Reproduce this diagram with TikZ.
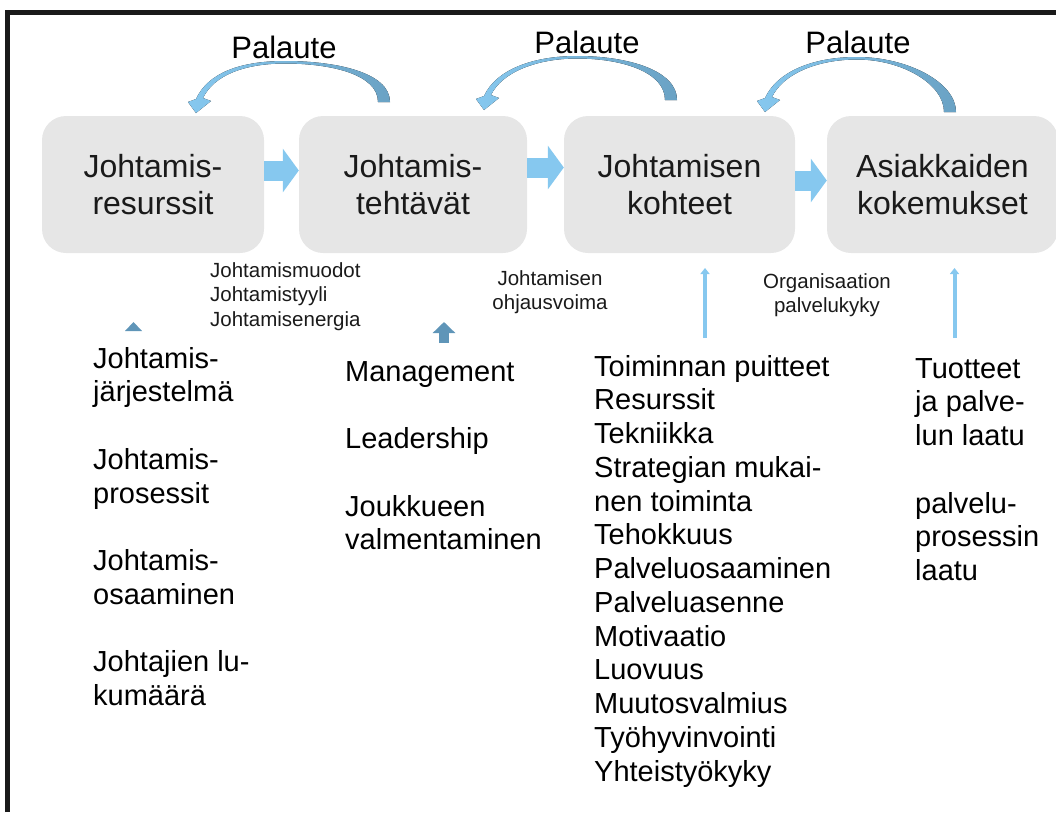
\documentclass[tikz,border=0pt]{standalone}
\usepackage{fontspec}
\setmainfont{Liberation Sans}
\usetikzlibrary{arrows.meta}
\definecolor{laatikko}{HTML}{E6E6E6}
\definecolor{vaalea}{HTML}{86C8EF}
\definecolor{syva}{HTML}{5F95B8}
\definecolor{palsyva}{HTML}{6AA2C4}
\definecolor{kehysvari}{HTML}{1A1A1A}
\tikzset{
  vaihe/.style={rectangle,rounded corners=24pt,fill=laatikko,minimum height=137pt,
    align=center,inner sep=0pt,text=kehysvari,font=\fontsize{32}{37}\selectfont},
  lista/.style={anchor=north west,align=left,inner sep=0pt,font=\fontsize{29}{33.75}\selectfont},
  pieni/.style={inner sep=0pt,text=kehysvari,font=\fontsize{20.5}{24}\selectfont},
  siirto/.style={vaalea,line width=20pt,-{Triangle[length=16pt,width=43pt]}},
  nosto/.style={vaalea,line width=4pt,-{Triangle[length=6pt,width=9pt]}},
  palaute/.style={left color=vaalea,right color=palsyva},
}
\begin{document}
\begin{tikzpicture}[x=1pt,y=-1pt]
\useasboundingbox (0,0) rectangle (1056,812);
% kehys
\draw[kehysvari,line width=4.5pt] (7.5,812) -- (7.5,12.5) -- (1056,12.5);

% vaiheet
\node[vaihe,minimum width=222pt] (resurssit) at (153,184.5) {Johtamis-\\resurssit};
\node[vaihe,minimum width=228pt] (tehtavat) at (413,184.5) {Johtamis-\\tehtävät};
\node[vaihe,minimum width=231pt] (kohteet) at (679.5,184.5) {Johtamisen\\kohteet};
\node[vaihe,minimum width=231pt] (kokemukset) at (942.5,184.5) {Asiakkaiden\\kokemukset};

% siirtymat
\draw[siirto] ([yshift=14pt]resurssit.east) -- ([yshift=14pt]tehtavat.west);
\draw[siirto] ([yshift=17pt]tehtavat.east) -- ([yshift=17pt]kohteet.west);
\draw[siirto] ([yshift=4pt]kohteet.east) -- ([yshift=4pt]kokemukset.west);

% palaute
\foreach \tx/\ty/\ax/\ay/\hx/\hy/\lx/\ly [count=\i] in
  {384/102/285/61/196/113/284/58, 671/100/577/56/484/110/587/53, 950/112/857/57/765/112/858/53}{
  \fill[palaute] ({\tx+6},\ty) .. controls ({\tx+6},{\ty-30}) and ({\ax+50},\ay) .. (\ax,\ay)
    .. controls ({\ax-45},\ay) and ({\hx+12},{\hy-40}) .. (\hx,{\hy-14})
    -- ({\hx-8},{\hy-11}) -- (\hx,\hy) -- ({\hx+15},{\hy-12}) -- ({\hx+7},{\hy-15})
    .. controls ({\hx+18},{\hy-38}) and ({\ax-40},{\ay+2.5}) .. (\ax,{\ay+2.5})
    .. controls ({\ax+45},{\ay+2.5}) and ({\tx-6},{\ty-28}) .. ({\tx-6},\ty) -- cycle;
  \node[anchor=base,inner sep=0pt,font=\fontsize{31}{31}\selectfont] (palaute\i) at (\lx,\ly) {Palaute};
}

% nuolet alhaalta
\coordinate (tehtava-ala) at (444,343);
\coordinate (tehtava-yla) at (444,322);
\coordinate (kohde-ala) at (705,338);
\coordinate (kohde-yla) at (705,268);
\coordinate (kokemus-ala) at (954.5,338);
\coordinate (kokemus-yla) at (954.5,268);
\fill[syva] (125,331) -- (133.5,322) -- (142,331) -- cycle;
\draw[syva,line width=10pt,-{Triangle[length=11pt,width=22pt]}] (tehtava-ala) -- (tehtava-yla);
\draw[nosto] (kohde-ala) -- (kohde-yla);
\draw[nosto] (kokemus-ala) -- (kokemus-yla);

% pienet tekstit
\node[pieni,anchor=north west,align=left,font=\fontsize{20.5}{24.5}\selectfont] (muodot) at (210,262)
  {Johtamismuodot\\Johtamistyyli\\Johtamisenergia};
\node[pieni,anchor=north,align=center] (ohjaus) at (550,270) {Johtamisen\\ohjausvoima};
\node[pieni,anchor=north,align=center] (palvelukyky) at (827,273) {Organisaation\\palvelukyky};

% listat
\node[lista] (lista1) at (93,347) {Johtamis-\\järjestelmä\\[33.75pt]Johtamis-\\prosessit\\[33.75pt]%
  Johtamis-\\osaaminen\\[33.75pt]Johtajien lu-\\kumäärä};
\node[lista] (lista2) at (345,361) {Management\\[33.75pt]Leadership\\[33.75pt]Joukkueen\\valmentaminen};
\node[lista] (lista3) at (594,355) {Toiminnan puitteet\\Resurssit\\Tekniikka\\Strategian mukai-\\nen toiminta\\%
  Tehokkuus\\Palveluosaaminen\\Palveluasenne\\Motivaatio\\Luovuus\\Muutosvalmius\\Työhyvinvointi\\Yhteistyökyky};
\node[lista] (lista4) at (915,358) {Tuotteet\\ja palve-\\lun laatu\\[33.75pt]palvelu-\\prosessin\\laatu};
\end{tikzpicture}
\end{document}
